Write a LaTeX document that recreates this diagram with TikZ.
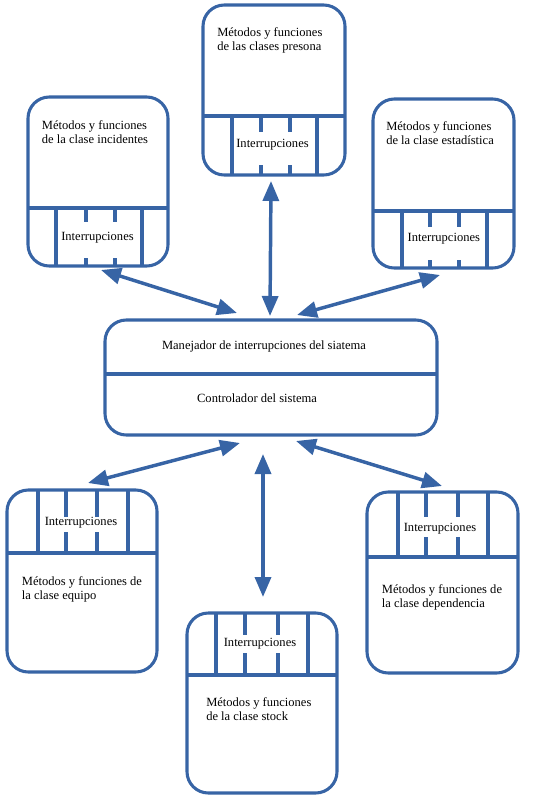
\documentclass[tikz,border=0pt]{standalone}
\usepackage{fontspec}
\setmainfont{Liberation Serif}
\usetikzlibrary{arrows.meta,fit}
\definecolor{ublue}{RGB}{55,100,165}
\begin{document}
\begin{tikzpicture}[x=0.75pt,y=-0.75pt,
  box/.style={draw=ublue, line width=2.3pt, rounded corners=16pt, inner sep=0pt},
  sep/.style={draw=ublue, line width=2.4pt},
  link/.style={draw=ublue, line width=2.6pt, {Triangle[length=15pt,width=12pt]}-{Triangle[length=15pt,width=12pt]}},
  title/.style={anchor=north west, inner sep=0pt, align=left, font=\fontsize{9.4}{10.6}\selectfont},
  lbl/.style={inner sep=0pt, font=\fontsize{9.4}{10.6}\selectfont}]
\useasboundingbox (0,0) rectangle (532,803);

% ---------- central box ----------
\node[box, fit={(105,320) (437,435)}] (ctrl) {};
\draw[sep] (105,374) -- (437,374);
\node[lbl, anchor=base] (mgr) at (264,349) {Manejador de interrupciones del siatema};
\node[lbl, anchor=base] (ctl) at (257,402.7) {Controlador del sistema};

% ---------- persona (top centre) ----------
\node[box, fit={(203,5) (345,175)}] (persona) {};
\draw[sep] (203,116) -- (345,116);
\draw[sep] (232,116) -- (232,175) (317,116) -- (317,175);
\draw[sep] (261,116) -- (261,132) (261,165) -- (261,175);
\draw[sep] (290,116) -- (290,132) (290,165) -- (290,175);
\node[title] (persT) at (217,27.5) {Métodos y funciones\\de las clases presona};
\node[lbl] (persI) at (272.5,144.5) {Interrupciones};

% ---------- incidentes (top left) ----------
\node[box, fit={(28,97) (168,266)}] (incid) {};
\draw[sep] (28,208) -- (168,208);
\draw[sep] (56,208) -- (56,266) (142,208) -- (142,266);
\draw[sep] (86,208) -- (86,222) (86,258) -- (86,266);
\draw[sep] (115,208) -- (115,222) (115,258) -- (115,266);
\node[title] (incT) at (41.7,120) {Métodos y funciones\\de la clase incidentes};
\node[lbl] (incI) at (97.5,237.5) {Interrupciones};

% ---------- estadistica (top right) ----------
\node[box, fit={(373,99) (514,268)}] (estad) {};
\draw[sep] (373,211) -- (514,211);
\draw[sep] (402,211) -- (402,268) (487,211) -- (487,268);
\draw[sep] (430,211) -- (430,227) (430,260) -- (430,268);
\draw[sep] (459,211) -- (459,227) (459,260) -- (459,268);
\node[title] (estT) at (386,121) {Métodos y funciones\\de la clase estadística};
\node[lbl] (estI) at (443.8,238.5) {Interrupciones};

% ---------- equipo (bottom left) ----------
\node[box, fit={(7,490) (157,672)}] (equipo) {};
\draw[sep] (7,553) -- (157,553);
\draw[sep] (38,490) -- (38,553) (128,490) -- (128,553);
\draw[sep] (66,490) -- (66,517) (66,532) -- (66,553);
\draw[sep] (97,490) -- (97,517) (97,532) -- (97,553);
\node[title] (equT) at (21.7,576) {Métodos y funciones de\\la clase equipo};
\node[lbl] (equI) at (81,522.5) {Interrupciones};

% ---------- stock (bottom centre) ----------
\node[box, fit={(187,613) (337,793)}] (stock) {};
\draw[sep] (187,675) -- (337,675);
\draw[sep] (216,613) -- (216,675) (308,613) -- (308,675);
\draw[sep] (245,613) -- (245,635) (245,653) -- (245,675);
\draw[sep] (278,613) -- (278,635) (278,653) -- (278,675);
\node[title] (stoT) at (206,697) {Métodos y funciones\\de la clase stock};
\node[lbl] (stoI) at (260,643.5) {Interrupciones};

% ---------- dependencia (bottom right) ----------
\node[box, fit={(367,492) (518,673)}] (depend) {};
\draw[sep] (367,557) -- (518,557);
\draw[sep] (398,492) -- (398,557) (488,492) -- (488,557);
\draw[sep] (426,492) -- (426,517) (426,537) -- (426,557);
\draw[sep] (458,492) -- (458,517) (458,537) -- (458,557);
\node[title] (depT) at (381.7,584) {Métodos y funciones de\\la clase dependencia};
\node[lbl] (depI) at (440,528.5) {Interrupciones};

% ---------- connector end points ----------
\coordinate (a1s) at (101,270);  \coordinate (a1e) at (237,313);
\coordinate (a2s) at (271,181);  \coordinate (a2e) at (270,316);
\coordinate (a3s) at (440,275);  \coordinate (a3e) at (297,315);
\coordinate (b1s) at (88,483);   \coordinate (b1e) at (240,443);
\coordinate (b2s) at (263,597);  \coordinate (b2e) at (263,454);
\coordinate (b3s) at (442,486);  \coordinate (b3e) at (296,441);

\draw[link] (a1s) -- (a1e);
\draw[link] (a2s) -- (a2e);
\draw[link] (a3s) -- (a3e);
\draw[link] (b1s) -- (b1e);
\draw[link] (b2s) -- (b2e);
\draw[link] (b3s) -- (b3e);
\end{tikzpicture}
\end{document}
